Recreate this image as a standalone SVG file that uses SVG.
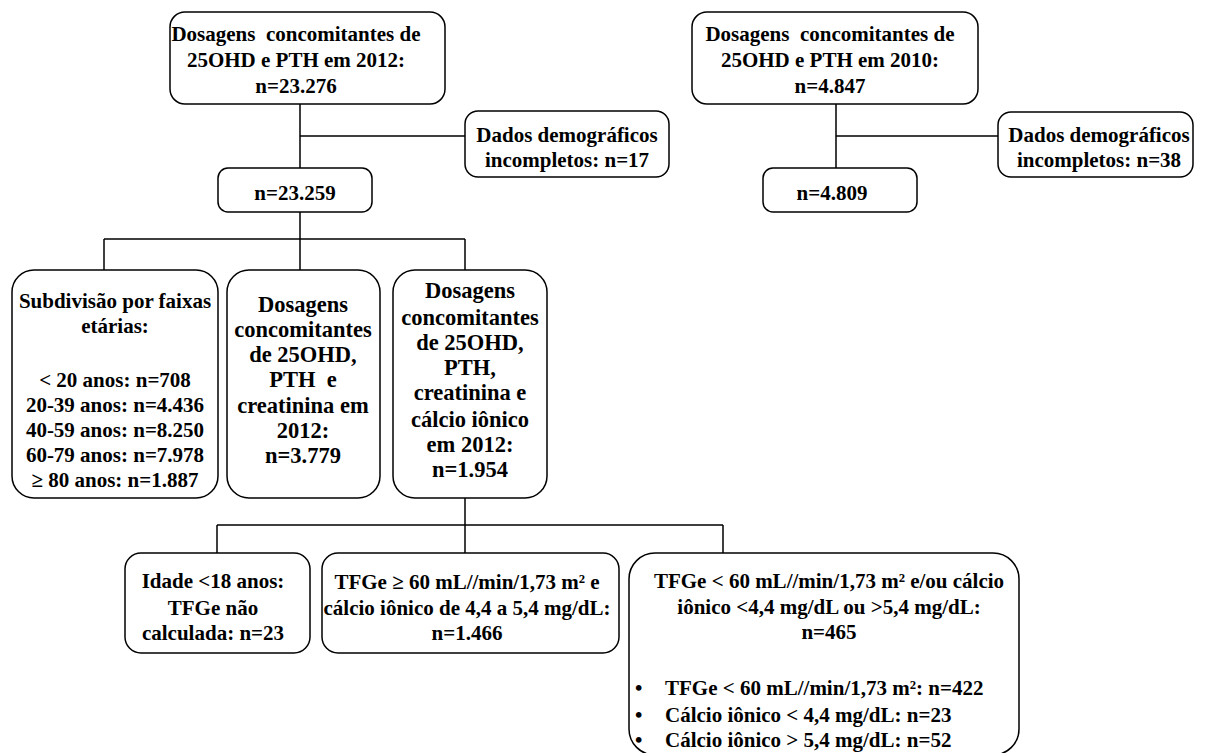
<svg xmlns="http://www.w3.org/2000/svg" width="1208" height="753" viewBox="0 0 1208 753">
<style>
.box{fill:#fff;stroke:#000;stroke-width:1.5}
.ln{fill:none;stroke:#000;stroke-width:1.5}
text{font-family:"Liberation Serif","Times New Roman","DejaVu Serif",serif;font-weight:bold;font-size:21px;fill:#000;text-anchor:middle}
.l{text-anchor:start}
.big{font-size:22.5px}
</style>
<rect width="1208" height="753" fill="#fff"/>
<g id="connectors">
<path class="ln" d="M300,104V168M300,136H465"/>
<path class="ln" d="M300,212V270M104,239H465M104,239V270M465,239V270"/>
<path class="ln" d="M465,498V553M217,525H723M217,525V553M723,525V553"/>
<path class="ln" d="M836,104V168M836,136H998"/>
</g>
<g id="n2012" font-family="Liberation Serif">
<rect class="box" x="170" y="12" width="275" height="92" rx="15"/>
<text x="296" y="41">Dosagens&#160; concomitantes de</text>
<text x="296" y="67">25OHD e PTH em 2012:</text>
<text x="296" y="93">n=23.276</text>
</g>
<g id="inc17">
<rect class="box" x="465" y="111" width="204" height="66" rx="13"/>
<text x="567" y="142">Dados demográficos</text>
<text x="567" y="167">incompletos: n=17</text>
</g>
<g id="n23259">
<rect class="box" x="218" y="168" width="154" height="44" rx="10"/>
<text x="295" y="200">n=23.259</text>
</g>
<g id="n2010">
<rect class="box" x="692" y="12" width="286" height="92" rx="15"/>
<text x="830" y="41">Dosagens&#160; concomitantes de</text>
<text x="830" y="67">25OHD e PTH em 2010:</text>
<text x="830" y="93">n=4.847</text>
</g>
<g id="inc38">
<rect class="box" x="998" y="112" width="195" height="65" rx="13"/>
<text x="1099" y="142">Dados demográficos</text>
<text x="1099" y="167">incompletos: n=38</text>
</g>
<g id="n4809">
<rect class="box" x="763" y="168" width="154" height="44" rx="10"/>
<text x="832" y="200">n=4.809</text>
</g>
<g id="faixas">
<rect class="box" x="12" y="270" width="206" height="228" rx="22"/>
<text x="115" y="308">Subdivisão por faixas</text>
<text x="115" y="333">etárias:</text>
<text x="115" y="387">&lt; 20 anos: n=708</text>
<text x="115" y="412">20-39 anos: n=4.436</text>
<text x="115" y="437">40-59 anos: n=8.250</text>
<text x="115" y="462">60-79 anos: n=7.978</text>
<text x="115" y="487">≥ 80 anos: n=1.887</text>
</g>
<g id="creat">
<rect class="box" x="227" y="270" width="153" height="228" rx="22"/>
<text class="big" x="303" y="312">Dosagens</text>
<text class="big" x="303" y="337">concomitantes</text>
<text class="big" x="303" y="362">de 25OHD,</text>
<text class="big" x="303" y="387">PTH&#160; e</text>
<text class="big" x="303" y="413">creatinina em</text>
<text class="big" x="303" y="438">2012:</text>
<text class="big" x="303" y="463">n=3.779</text>
</g>
<g id="calcio">
<rect class="box" x="393" y="270" width="154" height="228" rx="22"/>
<text class="big" x="470" y="298">Dosagens</text>
<text class="big" x="470" y="325">concomitantes</text>
<text class="big" x="470" y="350">de 25OHD,</text>
<text class="big" x="470" y="375">PTH,</text>
<text class="big" x="470" y="400">creatinina e</text>
<text class="big" x="470" y="427">cálcio iônico</text>
<text class="big" x="470" y="452">em 2012:</text>
<text class="big" x="470" y="477">n=1.954</text>
</g>
<g id="idade">
<rect class="box" x="125" y="553" width="185" height="100" rx="16"/>
<text x="213" y="588">Idade &lt;18 anos:</text>
<text x="213" y="615">TFGe não</text>
<text x="213" y="640">calculada: n=23</text>
</g>
<g id="normal">
<rect class="box" x="322" y="553" width="297" height="100" rx="16"/>
<text x="467" y="589">TFGe ≥ 60 mL//min/1,73 m² e</text>
<text x="467" y="615">cálcio iônico de 4,4 a 5,4 mg/dL:</text>
<text x="467" y="640">n=1.466</text>
</g>
<g id="alterado">
<rect class="box" x="629" y="553" width="390" height="202" rx="26"/>
<text x="829" y="588">TFGe &lt; 60 mL//min/1,73 m² e/ou cálcio</text>
<text x="829" y="614">iônico &lt;4,4 mg/dL ou &gt;5,4 mg/dL:</text>
<text x="829" y="639">n=465</text>
<text class="l" x="635" y="695">•</text>
<text class="l" x="665" y="695">TFGe &lt; 60 mL//min/1,73 m²: n=422</text>
<text class="l" x="635" y="722">•</text>
<text class="l" x="665" y="722">Cálcio iônico &lt; 4,4 mg/dL: n=23</text>
<text class="l" x="635" y="747">•</text>
<text class="l" x="665" y="747">Cálcio iônico &gt; 5,4 mg/dL: n=52</text>
</g>
</svg>
